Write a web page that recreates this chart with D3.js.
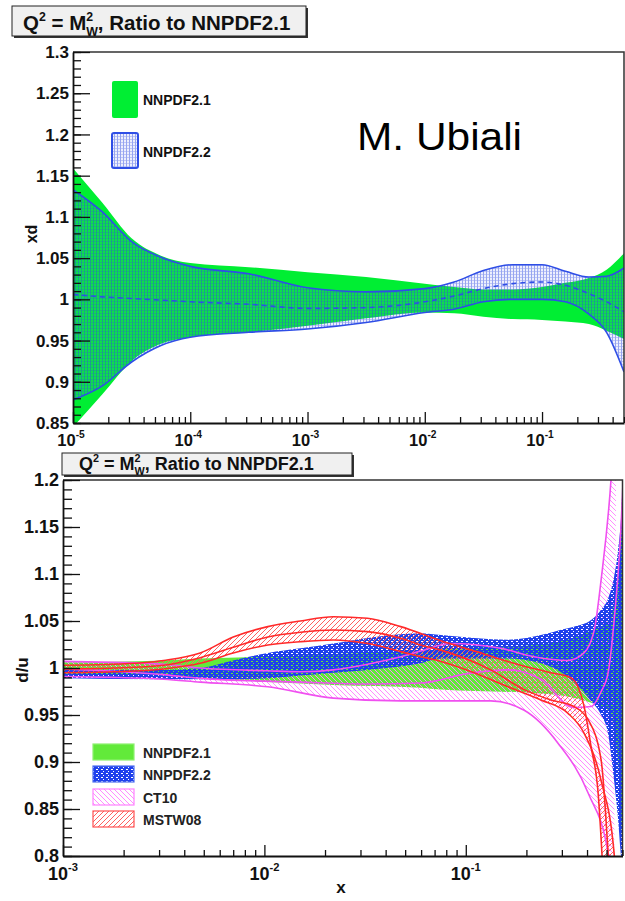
<!DOCTYPE html>
<html><head><meta charset="utf-8">
<script src="https://cdn.jsdelivr.net/npm/d3@7"></script>
<style>
body{margin:0;background:#fff}
svg{display:block}
text{font-family:"Liberation Sans",Arial,sans-serif}
</style>
</head><body>
<svg id="c" width="625" height="901"></svg>
<script>
// ---------------- DATA: top panel (xd, ratio to NNPDF2.1) ----------------
const topX       = [1e-5, 1.78e-5, 3.16e-5, 5.62e-5, 1e-4, 3.16e-4, 1e-3, 3.16e-3, 1e-2, 1.78e-2, 3.16e-2, 5.62e-2, 0.1, 0.158, 0.251, 0.355, 0.5];
const nn21TopHi  = [1.159, 1.117, 1.074, 1.053, 1.044, 1.039, 1.033, 1.027, 1.019, 1.015, 1.012, 1.012, 1.015, 1.020, 1.026, 1.036, 1.056];
const nn21TopLo  = [0.845, 0.885, 0.925, 0.946, 0.954, 0.960, 0.968, 0.977, 0.984, 0.983, 0.979, 0.976, 0.975, 0.973, 0.970, 0.962, 0.952];
const nn22TopHi  = [1.133, 1.106, 1.070, 1.051, 1.040, 1.031, 1.014, 1.009, 1.013, 1.021, 1.035, 1.042, 1.042, 1.034, 1.027, 1.028, 1.038];
const nn22TopLo  = [0.878, 0.895, 0.924, 0.944, 0.954, 0.960, 0.964, 0.972, 0.984, 0.988, 0.997, 1.000, 1.000, 0.997, 0.982, 0.960, 0.912];
const nn22TopMid = [1.006, 1.003, 1.001, 0.999, 0.997, 0.994, 0.989, 0.990, 0.997, 1.004, 1.013, 1.019, 1.021, 1.017, 1.007, 0.997, 0.985];
const topYTicks  = [0.85, 0.9, 0.95, 1, 1.05, 1.1, 1.15, 1.2, 1.25, 1.3];
const topYLabels = ["0.85","0.9","0.95","1","1.05","1.1","1.15","1.2","1.25","1.3"];
const topXExp    = [-5, -4, -3, -2, -1];
const topLegend  = ["NNPDF2.1", "NNPDF2.2"];

// ---------------- DATA: bottom panel (d/u, ratio to NNPDF2.1) ----------------
const nn21X  = [0.001, 0.00316, 0.0048, 0.0104, 0.022, 0.0597, 0.0752, 0.236, 0.419, 0.509, 0.570, 0.604];
const nn21Lo = [0.994, 0.992, 0.990, 0.985, 0.982, 0.979, 0.977, 0.973, 0.963, 0.955, 0.902, 0.790];
const nn21Hi = [1.006, 1.008, 1.010, 1.012, 1.015, 1.018, 1.020, 1.025, 1.040, 1.050, 1.100, 1.210];

const nn22X  = [0.001, 0.00316, 0.0048, 0.0070, 0.0104, 0.0151, 0.022, 0.0325, 0.0597, 0.0752, 0.162, 0.236, 0.30, 0.344, 0.419, 0.470, 0.509, 0.545, 0.570, 0.590, 0.604];
const nn22Hi = [0.999, 0.998, 1.000, 1.008, 1.016, 1.021, 1.026, 1.032, 1.037, 1.035, 1.030, 1.035, 1.041, 1.044, 1.051, 1.062, 1.074, 1.097, 1.125, 1.160, 1.210];
const nn22Lo = [0.989, 0.988, 0.988, 0.988, 0.989, 0.992, 0.995, 0.998, 1.005, 1.010, 1.010, 1.005, 0.995, 0.985, 0.965, 0.950, 0.930, 0.880, 0.840, 0.800, 0.790];

const ctHiX  = [0.001, 0.00178, 0.00316, 0.0048, 0.0104, 0.0151, 0.022, 0.0325, 0.0475, 0.0597, 0.084, 0.149, 0.218, 0.321, 0.386, 0.434, 0.470, 0.526, 0.56];
const ctHi   = [1.007, 1.006, 1.004, 1.000, 0.997, 0.996, 0.998, 1.004, 1.012, 1.018, 1.026, 1.021, 1.012, 1.008, 1.016, 1.040, 1.094, 1.200, 1.300];
const ctMidX = [0.001, 0.00316, 0.0048, 0.0151, 0.0325, 0.0597, 0.102, 0.162, 0.236, 0.344, 0.419, 0.470, 0.509, 0.545, 0.590, 0.61];
const ctMid  = [0.999, 0.993, 0.989, 0.985, 0.983, 0.984, 0.994, 0.998, 0.988, 0.958, 0.959, 0.975, 0.995, 1.050, 1.150, 1.220];
const ctLoX  = [0.001, 0.00178, 0.00316, 0.0048, 0.0104, 0.022, 0.0475, 0.0752, 0.133, 0.195, 0.287, 0.405, 0.509, 0.545];
const ctLo   = [0.991, 0.990, 0.988, 0.985, 0.980, 0.968, 0.965, 0.965, 0.965, 0.955, 0.920, 0.867, 0.803, 0.750];

const mwHiX  = [0.001, 0.00178, 0.00316, 0.0048, 0.0070, 0.0104, 0.0151, 0.022, 0.0325, 0.0475, 0.0752, 0.123, 0.18, 0.265, 0.33, 0.361, 0.386, 0.419, 0.454, 0.475, 0.49];
const mwHi   = [1.003, 1.004, 1.008, 1.016, 1.033, 1.044, 1.050, 1.0546, 1.053, 1.044, 1.029, 1.015, 1.004, 0.995, 0.990, 0.980, 0.960, 0.916, 0.867, 0.800, 0.740];
const mwMidX = [0.001, 0.00178, 0.00316, 0.0048, 0.0070, 0.0104, 0.0151, 0.022, 0.0325, 0.0475, 0.0597, 0.0752, 0.133, 0.195, 0.265, 0.344, 0.405, 0.470, 0.509, 0.53];
const mwMid  = [0.999, 1.000, 1.003, 1.011, 1.022, 1.033, 1.038, 1.0404, 1.0387, 1.0316, 1.0245, 1.019, 0.998, 0.977, 0.966, 0.959, 0.945, 0.902, 0.803, 0.740];
const mwLoX  = [0.001, 0.00178, 0.00316, 0.0048, 0.0070, 0.0104, 0.0151, 0.022, 0.0325, 0.0475, 0.0597, 0.0752, 0.110, 0.162, 0.236, 0.321, 0.386, 0.470, 0.545, 0.56];
const mwLo   = [0.995, 0.996, 0.999, 1.005, 1.016, 1.0245, 1.028, 1.0298, 1.026, 1.0174, 1.012, 1.007, 0.995, 0.980, 0.966, 0.952, 0.931, 0.880, 0.803, 0.760];

const botYTicks  = [0.8, 0.85, 0.9, 0.95, 1, 1.05, 1.1, 1.15, 1.2];
const botYLabels = ["0.8","0.85","0.9","0.95","1","1.05","1.1","1.15","1.2"];
const botXExp    = [-3, -2, -1];
const botLegend  = ["NNPDF2.1", "NNPDF2.2", "CT10", "MSTW08"];

// ---------------- drawing ----------------
const svg = d3.select("#c");
const defs = svg.append("defs");

// patterns
const pTop = defs.append("pattern").attr("id","pTopBlue").attr("patternUnits","userSpaceOnUse")
  .attr("width",3).attr("height",3);
pTop.append("rect").attr("width",3).attr("height",3).attr("fill","#6a7ff0").attr("opacity",0.12);
pTop.append("rect").attr("x",0).attr("y",0).attr("width",1).attr("height",3).attr("fill","#2f4be0").attr("opacity",0.45);
pTop.append("rect").attr("x",1).attr("y",1).attr("width",2).attr("height",1).attr("fill","#2f4be0").attr("opacity",0.25);

const pBot = defs.append("pattern").attr("id","pBotBlue").attr("patternUnits","userSpaceOnUse")
  .attr("width",5).attr("height",4);
pBot.append("path").attr("fill","#1f40ec").attr("fill-rule","evenodd")
  .attr("d","M0,0h5v4h-5z M1,1h2v1h-2z M3,3h1v1h-1z");

const pPink = defs.append("pattern").attr("id","pPink").attr("patternUnits","userSpaceOnUse")
  .attr("width",5).attr("height",5);
pPink.append("path").attr("stroke","#ff8cff").attr("stroke-width",1)
  .attr("d","M-1,-1L6,6M-1,4L1,6M4,-1L6,1");

const pRed = defs.append("pattern").attr("id","pRed").attr("patternUnits","userSpaceOnUse")
  .attr("width",5).attr("height",5);
pRed.append("path").attr("stroke","#ff6060").attr("stroke-width",1)
  .attr("d","M-1,6L6,-1M-1,1L1,-1M4,6L6,4");

function titleBox(x, y, w, h, tx, ty, fs) {
  svg.append("rect").attr("x",x+2).attr("y",y+2).attr("width",w).attr("height",h).attr("fill","#333");
  svg.append("rect").attr("x",x).attr("y",y).attr("width",w).attr("height",h)
    .attr("fill","#f0f0f0").attr("stroke","#222").attr("stroke-width",1);
  const t = svg.append("text").attr("x",tx).attr("y",ty).attr("font-size",fs).attr("font-weight","bold").attr("fill","#111");
  const s = fs*0.6, up = fs*0.42;
  t.append("tspan").text("Q");
  t.append("tspan").attr("dy",-up).attr("font-size",s).text("2");
  t.append("tspan").attr("dy",up).text(" = M");
  t.append("tspan").attr("dy",-up).attr("font-size",s).text("2");
  t.append("tspan").attr("dx",-s*0.56).attr("dy",up+fs*0.3).attr("font-size",s).text("W");
  t.append("tspan").attr("dy",-fs*0.3).text(", Ratio to NNPDF2.1");
}

function logTicks(lo, hi) {
  const major = [], minor = [];
  for (let e = Math.floor(Math.log10(lo)); e <= Math.ceil(Math.log10(hi)); e++) {
    for (let m = 1; m <= 9; m++) {
      const v = m * Math.pow(10, e);
      if (v < lo*0.999 || v > hi*1.001) continue;
      (m === 1 ? major : minor).push(v);
    }
  }
  return {major, minor};
}

function drawAxes(g, x, y, box, yTicks, yLabels, xExp, opt) {
  const [L, T, R, B] = box;
  g.append("path").attr("d",`M${L},${T}H${R}V${B}`).attr("fill","none").attr("stroke","#333").attr("stroke-width",1.5);
  const lt = logTicks(x.domain()[0], x.domain()[1]);
  const xa = g.append("g").attr("transform",`translate(0,${B})`);
  xa.call(d3.axisBottom(x).tickValues(lt.minor).tickSizeInner(-opt.xMinor).tickSizeOuter(0).tickFormat(()=>""));
  xa.append("g").call(d3.axisBottom(x).tickValues(lt.major).tickSizeInner(-opt.xMajor).tickSizeOuter(0).tickFormat(()=>""))
    .select(".domain").remove();
  xa.selectAll("path,line").attr("stroke","#111").attr("stroke-width",1.3);
  xa.select(".domain").attr("stroke-width",1.8);
  const ya = g.append("g").attr("transform",`translate(${L},0)`);
  const yMinor = d3.range(Math.round(y.domain()[0]*100), Math.round(y.domain()[1]*100)+1).map(v=>v/100);
  ya.call(d3.axisLeft(y).tickValues(yMinor).tickSizeInner(-opt.yMinor).tickSizeOuter(0).tickFormat(()=>""));
  ya.append("g").call(d3.axisLeft(y).tickValues(yTicks).tickSizeInner(-opt.yMajor).tickSizeOuter(0).tickFormat(()=>""))
    .select(".domain").remove();
  ya.selectAll("path,line").attr("stroke","#111").attr("stroke-width",1.3);
  ya.select(".domain").attr("stroke-width",1.8);
  g.append("g").selectAll("text").data(yTicks).join("text")
    .attr("x", L-opt.yLabGap).attr("y", d=>y(d)).attr("dy","0.36em")
    .attr("text-anchor","end").attr("font-size",opt.yFs).attr("font-weight","bold").attr("fill","#111")
    .text((d,i)=>yLabels[i]);
  const xl = g.append("g").selectAll("text").data(xExp).join("text")
    .attr("x", d=>x(Math.pow(10,d))+opt.xLabShift).attr("y", opt.xLabY)
    .attr("text-anchor","middle").attr("font-size",opt.xFs).attr("font-weight","bold").attr("fill","#111");
  xl.append("tspan").text("10");
  xl.append("tspan").attr("dy",-opt.xFs*0.5).attr("font-size",opt.xFs*0.62).text(d=>d);
}

// ======== TOP PANEL ========
const tBox = [73, 52, 624, 423];
const xT = d3.scaleLog().domain([1e-5, 0.5]).range([tBox[0], tBox[2]]);
const yT = d3.scaleLinear().domain([0.85, 1.3]).range([tBox[3], tBox[1]]);
defs.append("clipPath").attr("id","clipT").append("rect")
  .attr("x",tBox[0]).attr("y",tBox[1]).attr("width",tBox[2]-tBox[0]).attr("height",tBox[3]-tBox[1]);
const gT = svg.append("g");
const gTp = gT.append("g").attr("clip-path","url(#clipT)");
const areaT = (lo, hi) => d3.area().x((d,i)=>xT(topX[i])).y0((d,i)=>yT(lo[i])).y1((d,i)=>yT(hi[i])).curve(d3.curveMonotoneX)(topX);
const lineT = (v) => d3.line().x((d,i)=>xT(topX[i])).y((d,i)=>yT(v[i])).curve(d3.curveMonotoneX)(topX);
gTp.append("path").attr("d",areaT(nn21TopLo, nn21TopHi)).attr("fill","#00ee33");
gTp.append("path").attr("d",areaT(nn22TopLo, nn22TopHi)).attr("fill","url(#pTopBlue)");
[nn22TopHi, nn22TopLo].forEach(v=>gTp.append("path").attr("d",lineT(v)).attr("fill","none").attr("stroke","#2f4ee6").attr("stroke-width",1.6));
gTp.append("path").attr("d",lineT(nn22TopMid)).attr("fill","none").attr("stroke","#2f4ee6").attr("stroke-width",1.6).attr("stroke-dasharray","5,4");

drawAxes(gT, xT, yT, tBox, topYTicks, topYLabels, topXExp,
  {xMinor:6, xMajor:11, yMinor:8, yMajor:17, yLabGap:4, yFs:17, xFs:16.5, xLabY:446, xLabShift:-2});

const tl = gT.append("g");
tl.append("rect").attr("x",112).attr("y",81).attr("width",26).attr("height",37).attr("rx",2).attr("fill","#00ee33");
tl.append("rect").attr("x",112).attr("y",133).attr("width",26).attr("height",35).attr("rx",2)
  .attr("fill","url(#pTopBlue)").attr("stroke","#2f4ee6").attr("stroke-width",2);
tl.selectAll("text").data(topLegend).join("text")
  .attr("x",143).attr("y",(d,i)=>[105,157][i]).attr("font-size",14).attr("font-weight","bold").attr("fill","#111").text(d=>d);
gT.append("text").attr("transform","translate(37,234) rotate(-90)").attr("text-anchor","middle")
  .attr("font-size",16).attr("font-weight","bold").attr("fill","#111").text("xd");
svg.append("text").attr("x",357).attr("y",150).attr("font-family","Lato, 'Open Sans', sans-serif")
  .attr("font-size",38).attr("fill","#000").attr("textLength",165).attr("lengthAdjust","spacingAndGlyphs").text("M. Ubiali");
titleBox(12, 6, 294, 30, 23, 30, 20.5);

// ======== BOTTOM PANEL ========
const bBox = [63, 480, 622.5, 856];
const xB = d3.scaleLog().domain([1e-3, 0.6]).range([bBox[0], bBox[2]]);
const yB = d3.scaleLinear().domain([0.8, 1.2]).range([bBox[3], bBox[1]]);
defs.append("clipPath").attr("id","clipB").append("rect")
  .attr("x",bBox[0]).attr("y",bBox[1]).attr("width",bBox[2]-bBox[0]).attr("height",bBox[3]-bBox[1]);
const gB = svg.append("g");
const gBp = gB.append("g").attr("clip-path","url(#clipB)");
const mono = d3.line().curve(d3.curveMonotoneX);
const pts = (xs, ys) => xs.map((x,i)=>[xB(x), yB(ys[i])]);
function band(xs1, ys1, xs2, ys2) {
  const a = mono(pts(xs1, ys1));
  const b = mono(pts(xs2, ys2).reverse());
  return a + "L" + b.slice(1) + "Z";
}
gBp.append("path").attr("d",band(nn21X, nn21Hi, nn21X, nn21Lo)).attr("fill","#62ea3a");
gBp.append("path").attr("d",band(ctHiX, ctHi, ctLoX, ctLo)).attr("fill","url(#pPink)");
gBp.append("path").attr("d",band(nn22X, nn22Hi, nn22X, nn22Lo)).attr("fill","url(#pBotBlue)");
gBp.append("path").attr("d",band(mwHiX, mwHi, mwLoX, mwLo)).attr("fill","url(#pRed)");
[[ctHiX,ctHi],[ctMidX,ctMid],[ctLoX,ctLo]].forEach(([xs,ys])=>
  gBp.append("path").attr("d",mono(pts(xs,ys))).attr("fill","none").attr("stroke","#f050f0").attr("stroke-width",1.6));
[[mwHiX,mwHi],[mwMidX,mwMid],[mwLoX,mwLo]].forEach(([xs,ys])=>
  gBp.append("path").attr("d",mono(pts(xs,ys))).attr("fill","none").attr("stroke","#ff2a2a").attr("stroke-width",1.6));

drawAxes(gB, xB, yB, bBox, botYTicks, botYLabels, botXExp,
  {xMinor:6, xMajor:11, yMinor:9, yMajor:17, yLabGap:4, yFs:18, xFs:18, xLabY:880, xLabShift:0});

const bl = gB.append("g");
const legY = [744, 766, 789, 811];
const legFill = ["#62ea3a", "url(#pBotBlue)", "url(#pPink)", "url(#pRed)"];
const legStroke = ["#8ef070", "#5070f0", "#ff80ff", "#ff5050"];
bl.selectAll("rect").data(botLegend).join("rect")
  .attr("x",93).attr("y",(d,i)=>legY[i]).attr("width",41).attr("height",16)
  .attr("fill",(d,i)=>legFill[i]).attr("stroke",(d,i)=>legStroke[i]).attr("stroke-width",1.2);
bl.selectAll("text").data(botLegend).join("text")
  .attr("x",143).attr("y",(d,i)=>legY[i]+14).attr("font-size",14).attr("font-weight","bold").attr("fill","#222").text(d=>d);
gB.append("text").attr("transform","translate(28,670) rotate(-90)").attr("text-anchor","middle")
  .attr("font-size",17).attr("font-weight","bold").attr("fill","#111").text("d/u");
gB.append("text").attr("x",341).attr("y",893).attr("text-anchor","middle")
  .attr("font-size",17).attr("font-weight","bold").attr("fill","#111").text("x");
titleBox(62, 453, 290, 22, 79, 470, 18);
</script>
</body></html>
